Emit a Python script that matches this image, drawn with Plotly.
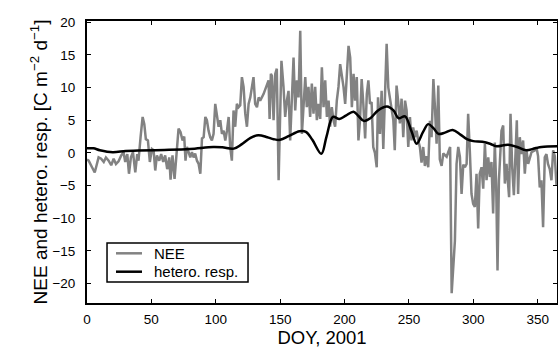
import plotly.graph_objects as go

# Daily net ecosystem exchange (NEE), day of year 2001
nee_doy = [0, 1.3, 3.9, 6, 7.7, 9, 11, 13, 14.7, 16.8, 18.8, 20.7, 22.5, 24.5, 26.6, 28.4, 29.7,
           31.3, 32.6, 34.1, 35.7, 37.5, 39, 40, 41.6, 43.2, 44.5, 45.7, 47.3, 48.8, 50.4, 51.7,
           53, 54.3, 56.1, 57.6, 59.2, 60.7, 62.3, 63.9, 64.9, 66.4, 68, 69.5, 71.1, 72.6, 74.2,
           75.5, 76.5, 77.6, 79, 80.2, 81.5, 82.8, 84, 85.4, 86.7, 88, 89.3, 90.6, 91.9, 93.1,
           94.4, 95.7, 97, 98.3, 99.6, 100.9, 102.2, 103.5, 104.8, 106.1, 107.4, 108.7, 110,
           111.2, 112.5, 113.8, 115.1, 116.4, 117.7, 119, 120.3, 121.6, 122.9, 124.2, 125.5,
           126.8, 128, 129.3, 130.6, 132, 133.3, 134.5, 137.1, 139.7, 141, 141.8, 142.8, 143.6,
           144.9, 146.2, 147.4, 148.8, 151, 152.6, 153.9, 155.2, 156.5, 157.8, 159.1, 160.4,
           161.7, 163, 164.3, 165.6, 166.9, 168.2, 169.5, 170.7, 172, 173.3, 174.6, 175.9, 177.2,
           178.5, 179.8, 181.1, 182.4, 183.7, 185, 186.3, 187.6, 188.8, 190.1, 191.4, 192.7, 194,
           195.3, 196.6, 197.9, 199.2, 200.5, 201.8, 203.1, 204.4, 205.7, 207, 208.2, 209.5,
           210.8, 212, 213.3, 214.6, 216, 217.3, 218.5, 219.8, 221, 222.3, 223.6, 225, 226,
           227.5, 228.8, 230.1, 231.4, 232.7, 234, 235.3, 236.6, 237.9, 239, 240.4, 241.6, 243,
           244.3, 245.6, 247, 248.2, 249.5, 250.8, 252, 253.3, 254.6, 256, 257.2, 258.5, 259.8,
           261.1, 262.4, 263.7, 265, 266.3, 267.6, 269, 270.2, 271.5, 272.8, 274, 275.4, 276.7,
           279.3, 282, 283.2, 285.7, 287, 288.3, 289.6, 290.9, 292.2, 293.5, 294.8, 296, 297.3,
           298.6, 299.9, 301.2, 302.5, 303.8, 305, 306.4, 307.7, 309, 310.3, 311.6, 312.9, 314.1,
           315.4, 316.7, 317.8, 318.8, 319.9, 321.9, 323.2, 324.5, 325.8, 327, 327.8, 328.9,
           330.2, 331.5, 332.7, 333.8, 334.8, 336.1, 337.4, 338.7, 340, 341.3, 342.6, 343.9,
           345.2, 347.8, 349, 350.3, 351.6, 352.9, 354.2, 355.5, 356.8, 358, 359.4, 360.7, 362,
           363.3, 364.6]
nee_flux = [-1.0, -1.2, -2.2, -3.0, -1.7, -0.7, -0.9, -1.4, -0.7, -1.2, -1.9, -0.9, -1.7, -1.3,
            -0.4, 0.1, -1.4, -0.2, -3.2, -0.7, 0.1, -3.0, -0.2, -1.2, 2.4, 5.5, 4.4, 2.1, 1.9,
            -1.4, 0.6, 0.4, -2.7, -0.4, -1.2, -0.2, -1.4, -0.4, -2.5, -0.7, -4.1, -0.4, -4.0,
            -0.7, 3.7, 3.2, 1.9, 2.5, -1.2, 0.9, -0.1, -0.7, 0.1, -0.7, -0.1, -1.2, -1.7, -3.2,
            2.2, 2.4, 5.5, 5.0, 3.4, 2.4, 1.9, 2.9, 7.5, 6.0, 4.0, 5.0, 2.9, 3.4, 1.9, 3.4, 5.5,
            0.9, -1.2, 6.5, 4.0, 7.5, 7.0, 7.3, 11.6, 10.1, 6.0, 4.0, 7.5, 8.5, 10.0, 11.6, 7.5,
            7.0, 8.5, 8.0, 9.0, 10.6, 11.1, 5.2, 12.1, 11.8, 5.0, 12.1, 12.9, -4.2, 14.1, 10.1,
            5.5, 8.0, 9.5, 1.9, 10.1, 14.6, 6.5, 11.1, 8.5, 18.7, 2.9, 7.5, 11.6, 7.0, 10.1, 5.5,
            10.6, 6.0, 10.1, 5.0, 7.5, 5.2, 13.1, 7.0, 11.1, 5.5, 8.0, 4.0, 7.0, 5.0, 4.0, 8.0,
            10.1, 13.6, 12.1, 10.1, 7.5, 12.1, 16.4, 14.6, 7.0, 12.1, 8.0, 11.6, 1.9, 5.0, 11.3,
            7.5, 2.2, 9.0, 11.1, 7.5, 7.8, 0.9, 0.0, -2.2, 8.5, 2.9, 9.5, 0.6, 9.8, 16.7, 10.0,
            8.5, 7.0, 5.0, 0.4, 10.3, 8.0, 4.5, 8.3, 2.4, 8.0, 6.5, 0.9, 5.5, 1.9, 3.9, 2.4, 3.4,
            1.9, 0.9, -1.5, 0.9, -2.0, -0.5, -2.2, 4.9, 2.4, 11.3, 7.0, 1.4, 10.3, -1.0, -2.0,
            -0.1, -0.6, 0.9, -21.5, -13.5, -1.7, 0.9, -0.6, -6.3, -1.8, -2.2, -1.7, 6.0, 0.3,
            -6.3, -7.8, -8.3, -3.2, -11.6, -3.2, -2.2, -5.5, 1.4, -4.2, -0.7, -3.7, -1.4, -9.3,
            1.6, -5.2, -18.0, -4.2, 3.4, 4.2, -4.7, -1.7, -5.2, -6.8, 6.0, -2.2, -6.5, -0.7, 5.0,
            -6.3, 2.4, -0.2, 1.9, -3.2, 0.4, -1.7, -0.7, 0.1, 0.4, 0.9, -0.5, -5.3, -4.2, -11.4,
            -0.7, -0.2, -1.7, -2.5, -4.2, 0.4, -0.5, -5.0]

# Heterotrophic respiration (smooth seasonal curve)
resp_doy = [0, 5, 10, 20, 30, 40, 60, 80, 98, 105, 114, 120, 127, 133, 140, 145, 150, 157,
            165, 170, 175, 182, 186, 191, 196, 201, 207, 211, 215, 220, 226, 233, 238, 242,
            247, 252, 256, 261, 265, 269, 273, 278, 284, 290, 295, 300, 307, 313, 318, 327,
            334, 341, 348, 353, 365]
resp_flux = [0.7, 0.7, 0.4, 0.1, 0.3, 0.35, 0.45, 0.6, 0.9, 0.85, 0.65, 1.3, 2.3, 2.7, 2.4,
             2.1, 2.0, 2.6, 3.3, 3.2, 2.0, -0.15, 2.5, 5.5, 5.2, 5.7, 6.3, 5.6, 4.9, 5.3, 6.5,
             7.1, 6.5, 5.3, 5.6, 3.3, 1.4, 3.2, 4.4, 3.8, 2.9, 3.1, 3.5, 2.8, 2.1, 1.8, 1.7, 1.4,
             1.0, 1.25, 0.9, 0.4, 0.7, 0.9, 1.0]

series_names = ["NEE", "hetero. resp."]
series_colors = ["#828282", "black"]

font_family = "Liberation Sans, Arial, Helvetica, sans-serif"

fig = go.Figure()
fig.add_trace(go.Scatter(x=nee_doy, y=nee_flux, mode="lines", name=series_names[0],
                         line=dict(color=series_colors[0], width=2.5), showlegend=False))
fig.add_trace(go.Scatter(x=resp_doy, y=resp_flux, mode="lines", name=series_names[1],
                         line=dict(color=series_colors[1], width=2.5, shape="spline", smoothing=1.0),
                         showlegend=False))

axis_common = dict(showline=True, linecolor="black", linewidth=2, mirror="ticks",
                   ticks="inside", ticklen=4, tickwidth=1.2, tickcolor="black",
                   showgrid=False, zeroline=False,
                   tickfont=dict(family=font_family, size=13.5, color="black"))

fig.update_xaxes(range=[0, 365], tickvals=[0, 50, 100, 150, 200, 250, 300, 350],
                 title=dict(text="DOY, 2001", font=dict(family=font_family, size=18.5, color="black"),
                            standoff=4),
                 ticklabelstandoff=3, **axis_common)
fig.update_yaxes(range=[-23, 20.2], tickvals=[-20, -15, -10, -5, 0, 5, 10, 15, 20],
                 ticktext=["\u221220", "\u221215", "\u221210", "\u22125", "0", "5", "10", "15", "20"],
                 title=dict(text="NEE and hetero. resp. [C m<sup>\u22122</sup> d<sup>\u22121</sup>]",
                            font=dict(family=font_family, size=19, color="black"), standoff=0),
                 ticklabelstandoff=7, **axis_common)

# Legend box in the lower-left corner of the plotting area
legend_x0, legend_x1, legend_y0, legend_y1 = 0.0426, 0.3426, 0.0745, 0.2128
sample_x0, sample_x1, text_x = 0.0617, 0.117, 0.1377
row_y = [0.1762, 0.111]

shapes = [dict(type="rect", xref="paper", yref="paper", x0=legend_x0, x1=legend_x1,
               y0=legend_y0, y1=legend_y1, line=dict(color="black", width=1.5),
               fillcolor="white", layer="above")]
annotations = []
for name, color, y in zip(series_names, series_colors, row_y):
    shapes.append(dict(type="line", xref="paper", yref="paper", x0=sample_x0, x1=sample_x1,
                       y0=y, y1=y, line=dict(color=color, width=2.5), layer="above"))
    annotations.append(dict(xref="paper", yref="paper", x=text_x, y=y, text=name,
                            showarrow=False, xanchor="left", yanchor="middle",
                            font=dict(family=font_family, size=15, color="black")))

fig.update_layout(
    width=558, height=356,
    margin=dict(l=87, r=1, t=21, b=53, autoexpand=False),
    paper_bgcolor="white", plot_bgcolor="white",
    font=dict(family=font_family, color="black"),
    shapes=shapes, annotations=annotations,
    showlegend=False,
)

fig.write_html("out.html")
